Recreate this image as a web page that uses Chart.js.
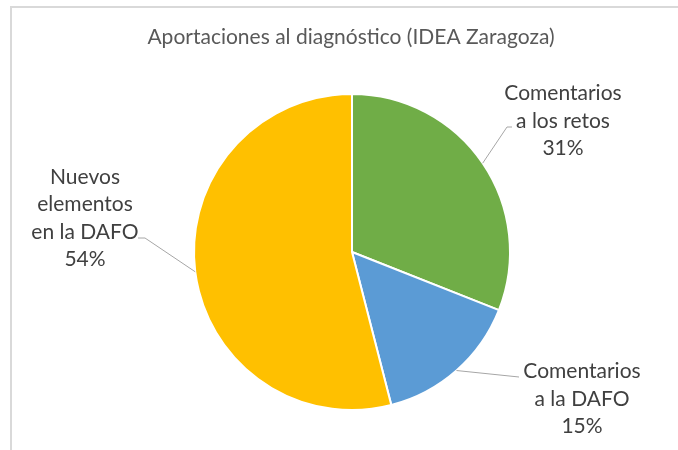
<!DOCTYPE html>
<html>
<head>
<meta charset="utf-8">
<script src="https://cdn.jsdelivr.net/npm/chart.js@4"></script>
<style>
  html, body { margin: 0; padding: 0; background: #fff; }
  #wrap { width: 678px; height: 450px; position: relative; }
</style>
</head>
<body>
<div id="wrap"><canvas id="pieChart" width="678" height="450"></canvas></div>
<script>
const chartTitle = "Aportaciones al diagnóstico (IDEA Zaragoza)";
const categories = [
  ["Comentarios", "a los retos"],
  ["Comentarios", "a la DAFO"],
  ["Nuevos", "elementos", "en la DAFO"]
];
const shares = [31, 15, 54];
const percentLabels = ["31%", "15%", "54%"];
const sliceColors = ["#70AD47", "#5B9BD5", "#FFC000"];

// where each label sits, relative to the pie center (px)
const labelLayout = [
  { tx: 211, ty: -131, elbow: [155, -125], end: [160, -125] },
  { tx: 230, ty: 147, elbow: null, end: [167, 125] },
  { tx: -267, ty: -34, elbow: [-207, -14], end: [-214, -14] }
];

const fontFam = "Lato, 'Open Sans', sans-serif";
const labelFont = "21px " + fontFam;
const titleFont = "21px " + fontFam;
const lineGap = 27.5;

const frame = {
  id: "frame",
  beforeDraw(chart) {
    const c = chart.ctx;
    c.save();
    c.strokeStyle = "#d9d9d9";
    c.lineWidth = 2;
    c.strokeRect(11, 7, 720, 500);
    c.fillStyle = "#595959";
    c.font = titleFont;
    c.textAlign = "center";
    c.textBaseline = "middle";
    c.fillText(chartTitle, 351, 37);
    c.restore();
  }
};

const pieLabels = {
  id: "pieLabels",
  afterDatasetsDraw(chart) {
    const c = chart.ctx;
    const arcs = chart.getDatasetMeta(0).data;
    c.save();
    arcs.forEach((arc, i) => {
      const p = arc.getProps(["x", "y", "startAngle", "endAngle", "outerRadius"], true);
      const mid = (p.startAngle + p.endAngle) / 2;
      const sx = p.x + Math.cos(mid) * p.outerRadius;
      const sy = p.y + Math.sin(mid) * p.outerRadius;
      const lay = labelLayout[i];

      c.strokeStyle = "#a6a6a6";
      c.lineWidth = 1;
      c.beginPath();
      c.moveTo(sx, sy);
      if (lay.elbow) c.lineTo(p.x + lay.elbow[0], p.y + lay.elbow[1]);
      c.lineTo(p.x + lay.end[0], p.y + lay.end[1]);
      c.stroke();

      const lines = categories[i].concat([percentLabels[i]]);
      const top = p.y + lay.ty - (lines.length - 1) * lineGap / 2;
      c.fillStyle = "#404040";
      c.font = labelFont;
      c.textAlign = "center";
      c.textBaseline = "middle";
      lines.forEach((t, k) => c.fillText(t, p.x + lay.tx, top + k * lineGap));
    });
    c.restore();
  }
};

new Chart(document.getElementById("pieChart"), {
  type: "pie",
  data: {
    labels: categories.map(l => l.join(" ")),
    datasets: [{
      data: shares,
      backgroundColor: sliceColors,
      borderColor: "#ffffff",
      borderWidth: 2
    }]
  },
  options: {
    responsive: false,
    animation: false,
    layout: { padding: { top: 93, bottom: 39, left: 193, right: 167 } },
    plugins: {
      legend: { display: false },
      tooltip: { enabled: false },
      title: { display: false }
    }
  },
  plugins: [frame, pieLabels]
});
</script>
</body>
</html>
